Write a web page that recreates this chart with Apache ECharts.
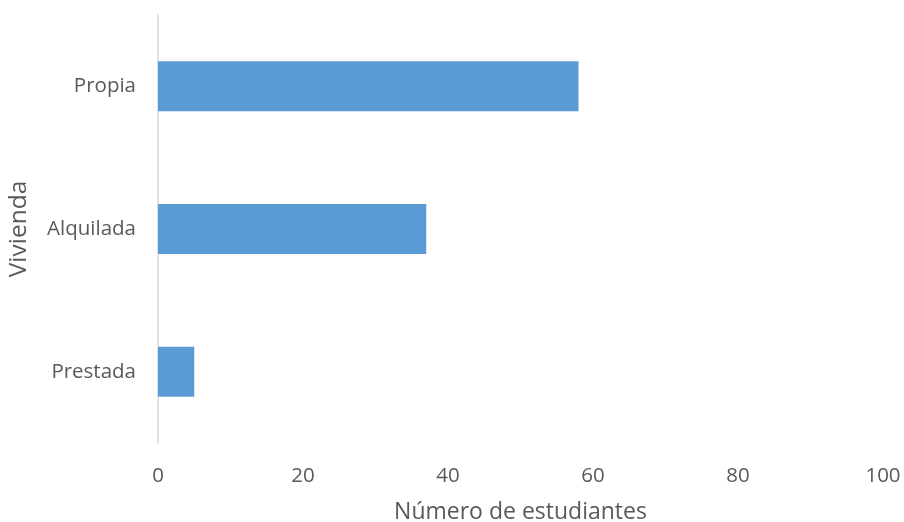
<!DOCTYPE html>
<html>
<head>
<meta charset="utf-8">
<script src="https://cdn.jsdelivr.net/npm/echarts@6/dist/echarts.min.js"></script>
<style>
  html, body { margin: 0; padding: 0; background: #fff; }
  #chart { width: 904px; height: 522px; }
</style>
</head>
<body>
<div id="chart"></div>
<script>
const categories = ['Prestada', 'Alquilada', 'Propia']
const values = [5, 37, 58]
const xTicks = [0, 20, 40, 60, 80, 100]

const chart = echarts.init(document.getElementById('chart'))
const textColor = '#595959'
const font = '"Open Sans", sans-serif'

chart.setOption({
  backgroundColor: '#fff',
  animation: false,
  grid: { left: 158, right: 21, top: 15, bottom: 79, containLabel: false, outerBoundsMode: 'none' },
  xAxis: {
    type: 'value',
    min: xTicks[0],
    max: xTicks[xTicks.length - 1],
    interval: 20,
    name: 'Número de estudiantes',
    nameLocation: 'middle',
    nameGap: 58,
    nameTextStyle: { color: textColor, fontSize: 23, fontFamily: font },
    axisLine: { show: false },
    axisTick: { show: false },
    splitLine: { show: false },
    axisLabel: { color: textColor, fontSize: 20.5, fontFamily: font, margin: 23 },
  },
  yAxis: {
    type: 'category',
    data: categories,
    name: 'Vivienda',
    nameLocation: 'middle',
    nameGap: 126,
    nameTextStyle: { color: textColor, fontSize: 24.5, fontFamily: font },
    axisLine: { show: true, lineStyle: { color: '#d9d9d9', width: 1.5 } },
    axisTick: { show: false },
    axisLabel: { color: textColor, fontSize: 20.5, fontFamily: font, margin: 22 },
  },
  series: [
    {
      type: 'bar',
      data: values,
      barWidth: 50,
      itemStyle: { color: '#5b9bd5' },
    },
  ],
})
</script>
</body>
</html>
